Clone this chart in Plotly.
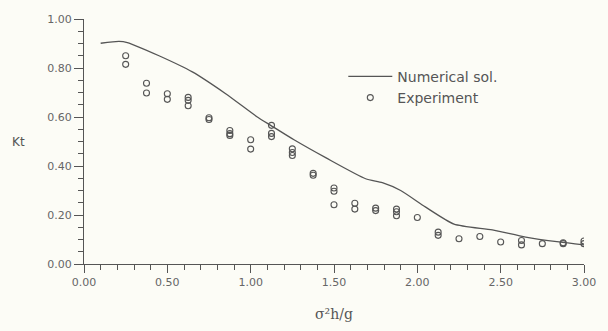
import plotly.graph_objects as go

# Numerical solution curve
num_x = [0.10, 0.21, 0.26, 0.45, 0.65, 0.85, 1.04, 1.12, 1.26, 1.45, 1.69, 1.79, 1.90, 2.05, 2.22, 2.45, 2.65, 2.85, 3.00]
num_y = [0.901, 0.909, 0.904, 0.850, 0.784, 0.695, 0.600, 0.566, 0.507, 0.434, 0.348, 0.332, 0.300, 0.232, 0.163, 0.139, 0.110, 0.090, 0.078]

# Experimental points
exp_x = [0.25, 0.25, 0.375, 0.375, 0.5, 0.5, 0.625, 0.625, 0.625, 0.75, 0.75,
         0.875, 0.875, 0.875, 1.0, 1.0, 1.125, 1.125, 1.125, 1.25, 1.25, 1.25,
         1.375, 1.375, 1.5, 1.5, 1.5, 1.625, 1.625, 1.75, 1.75, 1.875, 1.875, 1.875,
         2.0, 2.125, 2.125, 2.25, 2.375, 2.5, 2.625, 2.625, 2.75, 2.875, 2.875, 3.0, 3.0]
exp_y = [0.850, 0.815, 0.738, 0.698, 0.695, 0.672, 0.680, 0.668, 0.646, 0.597, 0.590,
         0.545, 0.532, 0.525, 0.507, 0.469, 0.566, 0.533, 0.520, 0.470, 0.455, 0.443,
         0.370, 0.362, 0.310, 0.297, 0.242, 0.248, 0.224, 0.228, 0.218, 0.224, 0.213, 0.197,
         0.190, 0.130, 0.117, 0.103, 0.112, 0.090, 0.096, 0.078, 0.083, 0.083, 0.087, 0.094, 0.083]

x_ticks = [0.0, 0.5, 1.0, 1.5, 2.0, 2.5, 3.0]
x_labels = ["0.00", "0.50", "1.00", "1.50", "2.00", "2.50", "3.00"]
y_ticks = [0.0, 0.2, 0.4, 0.6, 0.8, 1.0]
y_labels = ["0.00", "0.20", "0.40", "0.60", "0.80", "1.00"]
y_title_pos = [0.5]
y_title = ["Kt"]

INK = "#555555"
BG = "#fcfcf6"

fig = go.Figure()
fig.add_trace(go.Scatter(x=num_x, y=num_y, mode="lines",
                         line=dict(color=INK, width=1.3, shape="spline", smoothing=0.6),
                         name="Numerical sol.", showlegend=True))
fig.add_trace(go.Scatter(x=exp_x, y=exp_y, mode="markers",
                         marker=dict(symbol="circle-open", size=6, color=INK, line=dict(width=1.1)),
                         name="Experiment", showlegend=True))
# empty traces so the overlay axes (minor ticks, horizontal y title) exist
fig.add_trace(go.Scatter(x=[], y=[], xaxis="x2", yaxis="y2", showlegend=False, hoverinfo="skip"))
fig.add_trace(go.Scatter(x=[], y=[], xaxis="x", yaxis="y3", showlegend=False, hoverinfo="skip"))

tfont = dict(family="DejaVu Sans", size=11, color="#666666")

fig.update_layout(
    xaxis=dict(range=[0, 3.0], tickvals=x_ticks, ticktext=x_labels, ticks="outside", ticklen=8,
               showline=True, linecolor=INK, linewidth=1, tickcolor=INK, tickwidth=1,
               showgrid=False, zeroline=False, tickfont=tfont,
               title=dict(text="σ²h/g", standoff=20,
                          font=dict(family="DejaVu Serif", size=14, color=INK))),
    yaxis=dict(range=[0, 1.0], tickvals=y_ticks, ticktext=y_labels, ticks="outside", ticklen=9,
               showline=True, linecolor=INK, linewidth=1, tickcolor=INK, tickwidth=1,
               showgrid=False, zeroline=False, tickfont=tfont),
    xaxis2=dict(overlaying="x", anchor="y", side="bottom", range=[0, 3.0], tickmode="linear", tick0=0,
                dtick=0.1, ticks="outside", ticklen=5, tickcolor=INK, tickwidth=1,
                showticklabels=False, showline=False, showgrid=False, zeroline=False),
    yaxis2=dict(overlaying="y", anchor="x", side="left", range=[0, 1.0], tickmode="linear", tick0=0,
                dtick=0.05, ticks="outside", ticklen=5, tickcolor=INK, tickwidth=1,
                showticklabels=False, showline=False, showgrid=False, zeroline=False),
    yaxis3=dict(overlaying="y", anchor="x", side="left", range=[0, 1.0], tickvals=y_title_pos,
                ticktext=y_title, ticks="outside", ticklen=56, tickcolor="rgba(0,0,0,0)",
                tickfont=dict(family="DejaVu Sans", size=12, color=INK),
                showline=False, showgrid=False, zeroline=False),
)

W, H = 608, 331
L, R, T, B = 83, 14, 19, 60
fig.update_layout(width=W, height=H, margin=dict(l=L, r=R, t=T, b=B),
                  paper_bgcolor=BG, plot_bgcolor=BG, showlegend=True,
                  legend=dict(x=(348 - L) / (W - L - R), y=(H - B - 62) / (H - T - B),
                              xanchor="left", yanchor="top", bgcolor="rgba(0,0,0,0)",
                              borderwidth=0, itemwidth=44, tracegroupgap=0,
                              font=dict(family="DejaVu Sans", size=14, color=INK)))

fig.write_html("out.html")
